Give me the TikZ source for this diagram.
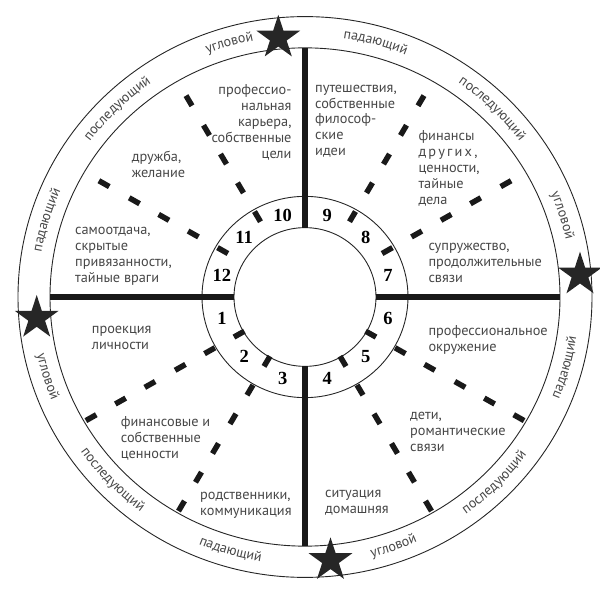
\documentclass[tikz,border=0pt]{standalone}
\usepackage{fontspec}
\setmainfont{PT Sans}
\newfontfamily\numfont{Liberation Serif}
\usetikzlibrary{shapes.geometric,decorations.text}
\newcommand\bandfont{\fontsize{14}{15}\selectfont\color{black!72}}
\begin{document}
\begin{tikzpicture}[x=1pt,y=1pt,
  lbl/.style={font=\fontsize{14.3}{15.8}\selectfont, text=black!72, inner sep=0pt, align=left},
  num/.style={font=\numfont\bfseries\fontsize{18.5}{18.5}\selectfont, inner sep=0pt},
  axisline/.style={line width=5.5pt, black!90},
  dashseg/.style={line width=5.5pt, black!90},
  ring/.style={line width=0.9pt, black!85},
  starnode/.style={star, star points=5, star point ratio=2.618, minimum size=46pt, fill=black!85, inner sep=0pt, draw=none}]
\useasboundingbox (-305,297) rectangle (295,-292);
\begin{scope}[yscale=0.977]
  \draw[ring] (0,0) circle[radius=71];
  \draw[ring] (0,0) circle[radius=103];
  \draw[ring] (0,0) circle[radius=255];
  \draw[ring] (0,0) circle[radius=287];
  \draw[axisline] (0,71) -- (0,255);
  \draw[axisline] (0,-71) -- (0,-255);
  \draw[axisline] (71,0) -- (255,0);
  \draw[axisline] (-71,0) -- (-255,0);
  \foreach \a in {30,60,120,150}
    \foreach \r in {95,129,163,197,232}
      \draw[dashseg] ({\a}:{\r-6}) -- ({\a}:{\r+6});
  \foreach \a in {210,240,300,330}
    \foreach \r in {76,110,144,179,213,247}
      \draw[dashseg] ({\a}:{\r-6}) -- ({\a}:{\r+6});
  \foreach \n/\a in {9/75,8/45,7/15,6/-15,5/-45,4/-75,3/-105,2/-135,1/-165,12/165,11/135,10/105}
    \node[num] (n\n) at ({\a}:86) {\n};
  % band labels, upper half (read clockwise, tops outward)
  \foreach \c/\t in {106.3/угловой,134.4/последующий,163.1/падающий,74.8/падающий,45.7/последующий,17.9/угловой}
    \path[decorate, decoration={text along path, text align=center, text={|\bandfont|\t}}]
      ({\c+25}:267.5) arc[start angle={\c+25}, end angle={\c-25}, radius=267.5];
  % band labels, lower half (read counter-clockwise, tops inward)
  \foreach \c/\t in {197.4/угловой,224.1/последующий,253.9/падающий,289.2/угловой,315/последующий,344.6/падающий}
    \path[decorate, decoration={text along path, text align=center, text={|\bandfont|\t}}]
      ({\c-25}:274.5) arc[start angle={\c-25}, end angle={\c+25}, radius=274.5];
\end{scope}
\node[starnode] (s1) at (-26.7,259.2) {};
\node[starnode] (s2) at (-268.3,-21) {};
\node[starnode] (s3) at (275,22.3) {};
\node[starnode] (s4) at (25.5,-263.3) {};
\node[lbl, anchor=north east, align=right] (tA) at (-13.3,212.3) {профессио-\\нальная\\карьера,\\собственные\\цели};
\node[lbl, anchor=north west] (tB) at (10,212.3) {путешествия,\\собственные\\философ-\\ские\\идеи};
\node[lbl, anchor=north west] (tC) at (-173.3,145.7) {дружба,\\желание};
\node[lbl, anchor=north west] (tD) at (-230,69.7) {самоотдача,\\скрытые\\привязанности,\\тайные враги};
\node[lbl, anchor=north west] (tE) at (113.3,166.3) {финансы\\д\kern2.2pt р\kern2.2pt у\kern2.2pt г\kern2.2pt и\kern2.2pt х\kern2.2pt,\\ценности,\\тайные\\дела};
\node[lbl, anchor=north west] (tF) at (123.3,53.7) {супружество,\\продолжительные\\связи};
\node[lbl, anchor=north west] (tG) at (-213.3,-28.7) {проекция\\личности};
\node[lbl, anchor=north west] (tH) at (-184.3,-119.3) {финансовые и\\собственные\\ценности};
\node[lbl, anchor=north west] (tI) at (-105,-195.3) {родственники,\\коммуникация};
\node[lbl, anchor=north west] (tJ) at (123.3,-28.7) {профессиональное\\окружение};
\node[lbl, anchor=north west] (tK) at (105,-115.3) {дети,\\романтические\\связи};
\node[lbl, anchor=north west] (tL) at (20,-193.3) {ситуация\\домашняя};
\end{tikzpicture}
\end{document}
